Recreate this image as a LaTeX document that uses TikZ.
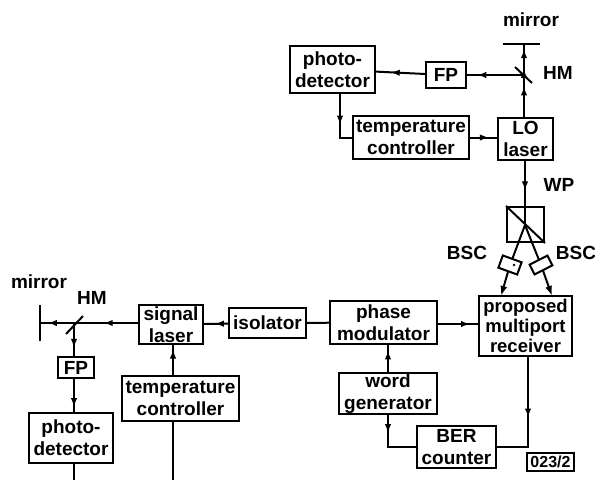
\documentclass[tikz,border=0pt]{standalone}
\usepackage{fontspec}
\setmainfont{Liberation Sans}[BoldFont={Liberation Sans Bold}]
\usetikzlibrary{arrows.meta, decorations.markings}
\tikzset{
  every picture/.style={font=\fontsize{19}{22}\selectfont\bfseries, line width=2pt},
  box/.style={draw, fill=white, align=center, inner sep=0pt},
  flow/.style={postaction={decorate, decoration={markings, mark=at position #1 with {\arrow{Latex[length=9pt, width=6.5pt]}}}}},
  endtip/.style={-{Latex[length=10pt, width=7pt]}},
  lab/.style={inner sep=0pt},
}
\begin{document}
\begin{tikzpicture}[x=1pt, y=-1pt]
  \useasboundingbox (0, 0) rectangle (595, 480);
  % upper branch
  \coordinate (mirt) at (524, 44);
  \coordinate (hmt) at (524, 75);
  \node[box, minimum width=85pt, minimum height=47pt] (pdt) at (332.5, 69.5) {photo-\\detector};
  \node[box, minimum width=40pt, minimum height=26pt] (fpt) at (446, 75) {FP};
  \node[box, minimum width=116pt, minimum height=43pt] (tct) at (411, 137.5) {temperature\\controller};
  \node[box, minimum width=55pt, minimum height=42pt] (lo) at (525.5, 139) {LO\\laser};
  \draw[flow=0.42, flow=0.66, flow=0.93] (lo.north -| hmt) -- (mirt);
  \draw ([xshift=-21pt]mirt) -- ([xshift=16pt]mirt);
  \draw ([shift={(-9, -8)}]hmt) -- ([shift={(8, 8)}]hmt);
  \draw[flow=0.82] (hmt) -- (fpt);
  \draw[flow=0.7] (fpt) -- (pdt);
  \draw[flow=0.55] (pdt.south -| 340, 0) |- (tct.west);
  \draw[flow=0.7] (tct) -- (tct -| lo.west);
  % receiver
  \coordinate (wpc) at (525, 225);
  \coordinate (rxl) at (501, 296);
  \coordinate (rxr) at (552, 296);
  \node[box, minimum width=37pt, minimum height=35pt] (wp) at (525.5, 224.5) {};
  \node[box, minimum width=20pt, minimum height=13pt, rotate=-20] (bscl) at (510, 265) {};
  \node[box, minimum width=20pt, minimum height=11pt, rotate=27] (bscr) at (541, 265) {};
  \node[circle, fill, inner sep=0.9pt] (dot) at (514, 265) {};
  \node[box, minimum width=93pt, minimum height=60pt, font=\fontsize{18.5}{20}\selectfont\bfseries] (rx) at (525.5, 326) {proposed\\multiport\\receiver};
  \draw[flow=0.46] (lo.south -| wpc) -- (wpc);
  \draw (wp.north west) -- (wp.south east);
  \draw (wpc) -- (bscl);
  \draw (wpc) -- (bscr);
  \draw[endtip] (bscl) -- (rxl);
  \draw[endtip] (bscr) -- (rxr);
  % lower chain
  \coordinate (mirs) at (40, 323);
  \coordinate (hms) at (74, 323);
  \node[box, minimum width=64pt, minimum height=39pt] (sl) at (171, 324.5) {signal\\laser};
  \node[box, minimum width=77pt, minimum height=30pt] (iso) at (267.5, 323) {isolator};
  \node[box, minimum width=107pt, minimum height=43pt] (pm) at (383.5, 322.5) {phase\\modulator};
  \node[box, minimum width=98pt, minimum height=41pt] (wg) at (388, 393.5) {word\\generator};
  \node[box, minimum width=79pt, minimum height=42pt] (ber) at (456.5, 447) {BER\\counter};
  \node[box, minimum width=47pt, minimum height=18pt, font=\fontsize{16}{18}\selectfont\bfseries] (tag) at (550.5, 462) {023/2};
  \draw[flow=0.55] (iso) -- (sl);
  \draw (pm) -- (iso);
  \draw[flow=0.8] (pm.east |- 0, 324) -- (rx.west |- 0, 324);
  \draw[flow=0.8] (wg.north) -- (wg.north |- pm.south);
  \draw[flow=0.3] (wg.south) |- (ber.west);
  \draw[flow=0.5] (rx.south -| 528, 0) |- (ber.east);
  % left branch
  \coordinate (pdend) at (74, 480);
  \coordinate (tcend) at (173, 480);
  \node[box, minimum width=36pt, minimum height=21pt] (fps) at (76, 367.5) {FP};
  \node[box, minimum width=84pt, minimum height=50pt] (pds) at (71, 438) {photo-\\detector};
  \node[box, minimum width=117pt, minimum height=45pt] (tcs) at (180.5, 398.5) {temperature\\controller};
  \draw[flow=0.35, flow=0.92] (sl.west |- hms) -- (mirs);
  \draw ([yshift=-18pt]mirs) -- ([yshift=18pt]mirs);
  \draw ([shift={(-8, 11)}]hms) -- ([shift={(9, -7)}]hms);
  \draw[flow=0.75] (hms) -- (hms |- fps.north);
  \draw[flow=0.85] (hms |- fps.south) -- (hms |- pds.north);
  \draw (hms |- pds.south) -- (pdend);
  \draw[flow=0.85] (tcend |- tcs.north) -- (tcend |- sl.south);
  \draw (tcend |- tcs.south) -- (tcend);
  % labels
  \node[lab] (lmt) at (531, 20) {mirror};
  \node[lab] (lht) at (558, 73) {HM};
  \node[lab] (lwp) at (559, 185) {WP};
  \node[lab] (lbl) at (467, 253) {BSC};
  \node[lab] (lbr) at (576, 253) {BSC};
  \node[lab] (lms) at (39, 282) {mirror};
  \node[lab] (lhs) at (92, 298) {HM};
\end{tikzpicture}
\end{document}
